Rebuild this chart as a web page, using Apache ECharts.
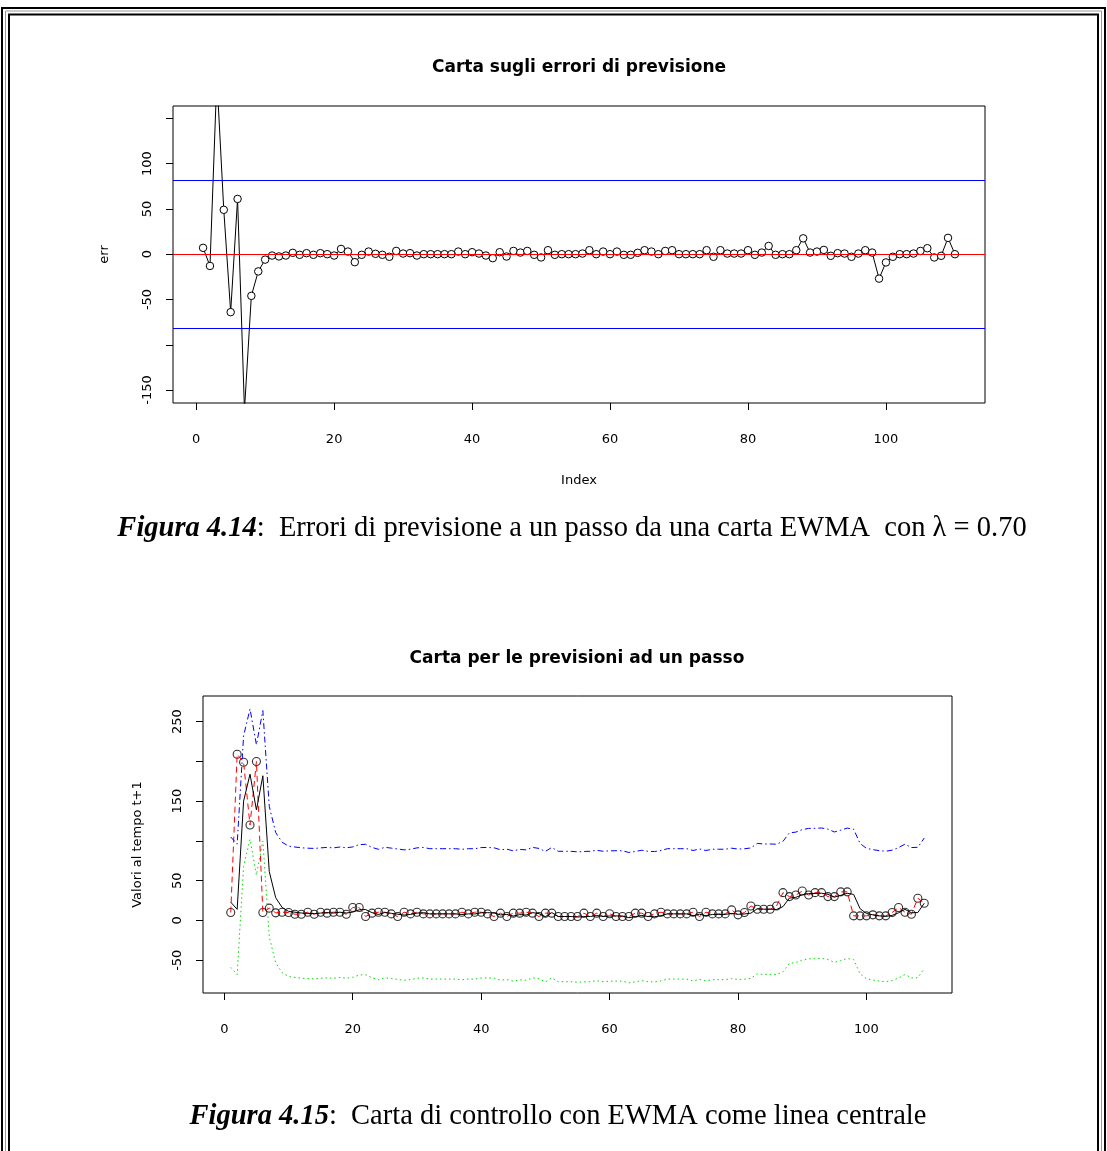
<!DOCTYPE html>
<html>
<head>
<meta charset="utf-8">
<title>Carte EWMA</title>
<script src="https://cdn.jsdelivr.net/npm/echarts@6/dist/echarts.min.js"></script>
<style>
html, body { margin: 0; padding: 0; background: #fff; }
#main { width: 1107px; height: 1151px; }
</style>
</head>
<body>
<div id="main"></div>
<script>
// errori di previsione a un passo (figura 4.14)
var errors = [7, -13, 195, 49, -64, 61, -172, -46, -19, -6,
	-1.5, -2.5, -1.5, 1.5, -0.7, 1.1, -0.7, 1.1, 0, -1.5,
	5.8, 2.9, -8.8, -0.7, 2.9, 0.4, -0.7, -2.9, 3.6, 0.7,
	1.1, -1.5, 0, 0, 0, 0, 0, 2.9, 0, 2.2,
	0.7, -1.5, -4.4, 2.2, -2.6, 3.6, 1.8, 3.6, -0.7, -3.6,
	4.4, -0.7, 0, 0, 0, 0.7, 4.4, 0, 2.9, 0,
	2.9, -0.7, -0.7, 1.5, 4.4, 2.9, 0, 3.6, 4.4, 0,
	0, 0, 0, 4.4, -2.9, 4.4, 0.7, 0.7, 0.7, 4.4,
	-0.7, 1.8, 9.1, -0.7, 0, 0, 4.4, 17.5, 1.8, 2.9,
	4.7, -1.8, 1.1, 0.7, -2.9, 0.7, 4.4, 1.8, -27, -9.1,
	-2.9, 0, 0, 0.7, 3.6, 6.6, -3.6, -1.8, 18, 0];
var errCentre = 0;
var errLimits = [-82, 82];

// valori osservati, previsioni EWMA e limiti (figura 4.15)
var observed = [10, 209, 199, 120, 200, 10, 15.5, 9.6, 10.4, 10,
	7.9, 7.9, 10.4, 7.9, 10.4, 9.2, 10.4, 10.4, 7.9, 16.3,
	16.3, 5, 9.2, 10.4, 10.4, 8.3, 5, 10.4, 8.3, 10.4,
	8.3, 8.3, 8.3, 8.3, 8.3, 8.3, 10.4, 8.3, 10.4, 10.4,
	8.3, 5, 9.2, 5, 9.2, 9.2, 10.4, 9.2, 5, 9.2,
	9.2, 5, 5, 5, 5, 9.2, 5, 9.2, 5, 8.5,
	5, 5, 5, 9.2, 9.2, 5, 8.3, 10.4, 8.3, 8.3,
	8.3, 8.3, 10.4, 5, 10.4, 8.3, 8.3, 8.3, 13.3, 7.1,
	10, 18.3, 14.2, 14.2, 14.2, 18.3, 35, 30, 32, 37,
	32, 35, 35, 30, 30, 36, 36, 5.8, 5.8, 5.8,
	7.1, 5.8, 5.8, 10, 16.3, 10.4, 7.9, 28, 21.7];
var forecast = [23, 14, 150, 184, 139, 182, 61.5, 28.6, 16.4, 11.5,
	10.4, 9.4, 8.9, 8.6, 9.3, 9.9, 9.3, 10.4, 9.4, 10.5,
	13.4, 13.8, 9.9, 7.5, 10, 9, 7.9, 6.8, 7.6, 9.3,
	9.8, 8.3, 8.3, 8.3, 8.3, 8.3, 7.5, 8.3, 8.2, 9.7,
	9.8, 9.4, 7, 7.6, 5.6, 7.4, 6.8, 9.9, 8.6, 4.8,
	9.9, 5, 5, 5, 4.3, 4.8, 5, 6.3, 5, 5.6,
	5.7, 5.7, 3.5, 4.8, 6.3, 5, 4.7, 6, 8.3, 8.3,
	8.3, 8.3, 6, 7.9, 6, 7.6, 7.6, 7.6, 8.9, 7.8,
	8.2, 9.2, 14.9, 14.2, 14.2, 13.9, 17.5, 28.2, 29.1, 32.3,
	33.8, 33.9, 34.3, 32.9, 29.3, 31.6, 34.2, 32.8, 14.9, 8.7,
	7.1, 5.8, 5.1, 6.4, 9.7, 14, 9.7, 10, 21.7];
var upperLimit = [105, 96, 232, 266, 221, 264, 143.5, 110.6, 98.4, 93.5,
	92.4, 91.4, 90.9, 90.6, 91.3, 91.9, 91.3, 92.4, 91.4, 92.5,
	95.4, 95.8, 91.9, 89.5, 92, 91, 89.9, 88.8, 89.6, 91.3,
	91.8, 90.3, 90.3, 90.3, 90.3, 90.3, 89.5, 90.3, 90.2, 91.7,
	91.8, 91.4, 89, 89.6, 87.6, 89.4, 88.8, 91.9, 90.6, 86.8,
	91.9, 87, 87, 87, 86.3, 86.8, 87, 88.3, 87, 87.6,
	87.7, 87.7, 85.5, 86.8, 88.3, 87, 86.7, 88, 90.3, 90.3,
	90.3, 90.3, 88, 89.9, 88, 89.6, 89.6, 89.6, 90.9, 89.8,
	90.2, 91.2, 96.9, 96.2, 96.2, 95.9, 99.5, 110.2, 111.1, 114.3,
	115.8, 115.9, 116.3, 114.9, 111.3, 113.6, 116.2, 114.8, 96.9, 90.7,
	89.1, 87.8, 87.1, 88.4, 91.7, 96, 91.7, 92, 103.7];
var lowerLimit = [-59, -68, 68, 102, 57, 100, -20.5, -53.4, -65.6, -70.5,
	-71.6, -72.6, -73.1, -73.4, -72.7, -72.1, -72.7, -71.6, -72.6, -71.5,
	-68.6, -68.2, -72.1, -74.5, -72, -73, -74.1, -75.2, -74.4, -72.7,
	-72.2, -73.7, -73.7, -73.7, -73.7, -73.7, -74.5, -73.7, -73.8, -72.3,
	-72.2, -72.6, -75, -74.4, -76.4, -74.6, -75.2, -72.1, -73.4, -77.2,
	-72.1, -77, -77, -77, -77.7, -77.2, -77, -75.7, -77, -76.4,
	-76.3, -76.3, -78.5, -77.2, -75.7, -77, -77.3, -76, -73.7, -73.7,
	-73.7, -73.7, -76, -74.1, -76, -74.4, -74.4, -74.4, -73.1, -74.2,
	-73.8, -72.8, -67.1, -67.8, -67.8, -68.1, -64.5, -53.8, -52.9, -49.7,
	-48.2, -48.1, -47.7, -49.1, -52.7, -50.4, -47.8, -49.2, -67.1, -73.3,
	-74.9, -76.2, -76.9, -75.6, -72.3, -68, -72.3, -72, -60.3];

// tacche e etichette degli assi
var xTicks = [0, 20, 40, 60, 80, 100];
var errTicks = [-150, -100, -50, 0, 50, 100, 150];
var errLabels = [-150, -50, 0, 50, 100];
var valTicks = [-50, 0, 50, 100, 150, 200, 250];
var valLabels = [-50, 0, 50, 150, 250];

function indexed(arr) {
	var out = [];
	for (var i = 0; i < arr.length; i++) {
		out.push([i + 1, arr[i]]);
	}
	return out;
}

var axisFont = {
	color : '#000',
	fontFamily : 'DejaVu Sans',
	fontSize : 13
};

function makeX(gridIndex, min, max, name) {
	return {
		type : 'value',
		gridIndex : gridIndex,
		min : min,
		max : max,
		name : name,
		nameLocation : 'middle',
		nameGap : 71,
		nameTextStyle : axisFont,
		axisLine : { show : false, onZero : false },
		splitLine : { show : false },
		axisTick : {
			show : true,
			length : 7,
			customValues : xTicks,
			lineStyle : { color : '#000', width : 1 }
		},
		axisLabel : {
			margin : 30,
			customValues : xTicks,
			color : axisFont.color,
			fontFamily : axisFont.fontFamily,
			fontSize : axisFont.fontSize
		}
	};
}

function makeY(gridIndex, min, max, name, nameGap, ticks, labels) {
	return {
		type : 'value',
		gridIndex : gridIndex,
		min : min,
		max : max,
		name : name,
		nameLocation : 'middle',
		nameGap : nameGap,
		nameTextStyle : axisFont,
		axisLine : { show : false, onZero : false },
		splitLine : { show : false },
		axisTick : {
			show : true,
			length : 7,
			customValues : ticks,
			lineStyle : { color : '#000', width : 1 }
		},
		axisLabel : {
			rotate : 90,
			margin : 19,
			customValues : labels,
			color : axisFont.color,
			fontFamily : axisFont.fontFamily,
			fontSize : axisFont.fontSize
		}
	};
}

var myChart = echarts.init(document.getElementById('main'));

var captionRich = {
	b : {
		fontFamily : 'Liberation Serif',
		fontSize : 28.5,
		fontStyle : 'italic',
		fontWeight : 'bold',
		fill : '#000'
	}
};

var option = {
	backgroundColor : '#fff',
	animation : false,
	grid : [ {
		left : 173,
		top : 106,
		width : 812,
		height : 297,
		show : true,
		borderColor : '#000',
		borderWidth : 1,
		backgroundColor : 'transparent'
	}, {
		left : 203,
		top : 696,
		width : 749,
		height : 297,
		show : true,
		borderColor : '#000',
		borderWidth : 1,
		backgroundColor : 'transparent'
	} ],
	xAxis : [ makeX(0, -3.36, 114.36, 'Index'), makeX(1, -3.32, 113.32, '') ],
	yAxis : [ makeY(0, -164.3, 163.6, 'err', 62, errTicks, errLabels),
			makeY(1, -91.2, 282.3, 'Valori al tempo t+1', 59, valTicks, valLabels) ],
	graphic : [ {
		type : 'rect',
		shape : { x : 2, y : 8, width : 1103, height : 1170 },
		style : { fill : 'none', stroke : '#000', lineWidth : 2 }
	}, {
		type : 'rect',
		shape : { x : 5.5, y : 11, width : 1096, height : 1170 },
		style : { fill : 'none', stroke : '#999', lineWidth : 1 }
	}, {
		type : 'rect',
		shape : { x : 9, y : 14.5, width : 1089, height : 1170 },
		style : { fill : 'none', stroke : '#000', lineWidth : 2 }
	}, {
		type : 'text',
		x : 579,
		y : 68,
		style : {
			text : 'Carta sugli errori di previsione',
			fontFamily : 'DejaVu Sans',
			fontSize : 17,
			fontWeight : 'bold',
			fill : '#000',
			textAlign : 'center',
			textVerticalAlign : 'middle'
		}
	}, {
		type : 'text',
		x : 577,
		y : 659,
		style : {
			text : 'Carta per le previsioni ad un passo',
			fontFamily : 'DejaVu Sans',
			fontSize : 17,
			fontWeight : 'bold',
			fill : '#000',
			textAlign : 'center',
			textVerticalAlign : 'middle'
		}
	}, {
		type : 'text',
		x : 572,
		y : 529,
		style : {
			text : '{b|Figura 4.14}:  Errori di previsione a un passo da una carta EWMA  con λ = 0.70',
			rich : captionRich,
			fontFamily : 'Liberation Serif',
			fontSize : 28.5,
			fill : '#000',
			textAlign : 'center',
			textVerticalAlign : 'middle'
		}
	}, {
		type : 'text',
		x : 558,
		y : 1117,
		style : {
			text : '{b|Figura 4.15}:  Carta di controllo con EWMA come linea centrale',
			rich : captionRich,
			fontFamily : 'Liberation Serif',
			fontSize : 28.5,
			fill : '#000',
			textAlign : 'center',
			textVerticalAlign : 'middle'
		}
	} ],
	series : [ {
		name : 'err',
		type : 'line',
		xAxisIndex : 0,
		yAxisIndex : 0,
		data : indexed(errors),
		symbol : 'circle',
		symbolSize : 7.5,
		lineStyle : { color : '#000', width : 1 },
		itemStyle : { color : '#fff', borderColor : '#000', borderWidth : 1 },
		markLine : {
			silent : true,
			symbol : [ 'none', 'none' ],
			label : { show : false },
			data : [ {
				yAxis : errLimits[0],
				lineStyle : { color : '#0000ff', type : 'solid', width : 1 }
			}, {
				yAxis : errLimits[1],
				lineStyle : { color : '#0000ff', type : 'solid', width : 1 }
			}, {
				yAxis : errCentre,
				lineStyle : { color : '#ff0000', type : 'solid', width : 1 }
			} ]
		}
	}, {
		name : 'osservati',
		type : 'scatter',
		xAxisIndex : 1,
		yAxisIndex : 1,
		data : indexed(observed),
		symbol : 'circle',
		symbolSize : 8,
		z : 2,
		itemStyle : { color : 'rgba(0,0,0,0)', borderColor : '#000', borderWidth : 1.1 }
	}, {
		name : 'osservati linea',
		type : 'line',
		xAxisIndex : 1,
		yAxisIndex : 1,
		data : indexed(observed),
		showSymbol : false,
		symbol : 'none',
		z : 3,
		lineStyle : { color : '#ff0000', width : 1, type : [ 6, 4 ] }
	}, {
		name : 'EWMA',
		type : 'line',
		xAxisIndex : 1,
		yAxisIndex : 1,
		data : indexed(forecast),
		showSymbol : false,
		symbol : 'none',
		z : 4,
		lineStyle : { color : '#000', width : 1, type : 'solid' }
	}, {
		name : 'UCL',
		type : 'line',
		xAxisIndex : 1,
		yAxisIndex : 1,
		data : indexed(upperLimit),
		showSymbol : false,
		symbol : 'none',
		z : 3,
		lineStyle : { color : '#0000ff', width : 1, type : [ 6, 3, 1.5, 3 ] }
	}, {
		name : 'LCL',
		type : 'line',
		xAxisIndex : 1,
		yAxisIndex : 1,
		data : indexed(lowerLimit),
		showSymbol : false,
		symbol : 'none',
		z : 3,
		lineStyle : { color : '#00dd00', width : 1, type : [ 1.5, 3 ] }
	} ]
};
myChart.setOption(option);
</script>
</body>
</html>
